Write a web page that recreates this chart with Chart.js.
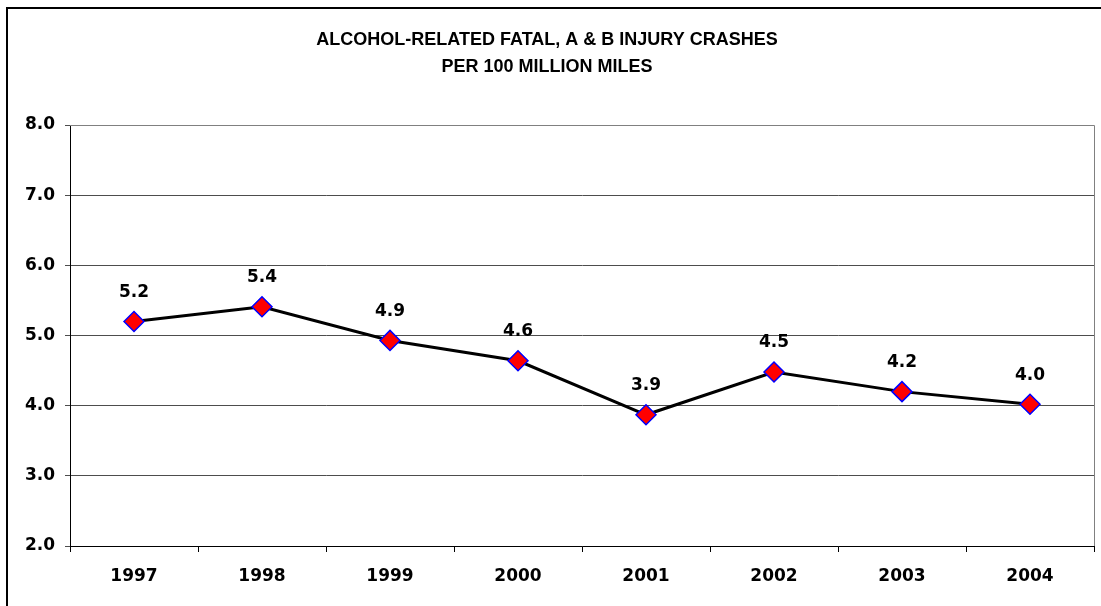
<!DOCTYPE html>
<html>
<head>
<meta charset="utf-8">
<script src="https://cdn.jsdelivr.net/npm/chart.js@4/dist/chart.umd.min.js"></script>
<style>
  body { margin: 0; background: #fff; }
  #wrap { width: 1101px; height: 606px; position: relative; }
</style>
</head>
<body>
<div id="wrap"><canvas id="myChart" width="1101" height="606"></canvas></div>
<script>
const years = ['1997', '1998', '1999', '2000', '2001', '2002', '2003', '2004'];
const crashRates = [5.2, 5.41, 4.93, 4.64, 3.87, 4.48, 4.2, 4.02];
const titleLines = ['ALCOHOL-RELATED FATAL, A & B INJURY CRASHES', 'PER 100 MILLION MILES'];
const yMin = 2;
const yMax = 8;

// frame around the picture + grey plot border on top/right
const framePlugin = {
    id: 'frame',
    beforeDraw(chart) {
        const ctx = chart.ctx;
        ctx.save();
        ctx.fillStyle = '#fff';
        ctx.fillRect(0, 0, chart.width, chart.height);
        ctx.fillStyle = '#000';
        ctx.fillRect(6, 7, 2, chart.height);
        ctx.fillRect(6, 7, chart.width, 2);
        ctx.restore();
    },
    afterDraw(chart) {
        const a = chart.chartArea;
        const ctx = chart.ctx;
        ctx.save();
        ctx.strokeStyle = '#808080';
        ctx.lineWidth = 1;
        ctx.beginPath();
        ctx.moveTo(Math.round(a.right) + 0.5, Math.round(a.bottom));
        ctx.lineTo(Math.round(a.right) + 0.5, Math.round(a.top) + 0.5);
        ctx.lineTo(Math.round(a.left), Math.round(a.top) + 0.5);
        ctx.stroke();
        ctx.restore();
    }
};

// value labels above each point
const valueLabels = {
    id: 'valueLabels',
    afterDatasetsDraw(chart) {
        const ctx = chart.ctx;
        const meta = chart.getDatasetMeta(0);
        ctx.save();
        ctx.font = 'bold 17px "DejaVu Sans", Verdana, sans-serif';
        ctx.fillStyle = '#000';
        ctx.textAlign = 'center';
        ctx.textBaseline = 'middle';
        meta.data.forEach((pt, i) => {
            ctx.fillText(crashRates[i].toFixed(1), pt.x, pt.y - 29);
        });
        ctx.restore();
    }
};

const ctx = document.getElementById('myChart').getContext('2d');
const myChart = new Chart(ctx, {
    type: 'line',
    data: {
        labels: years,
        datasets: [{
            data: crashRates,
            borderColor: '#000',
            borderWidth: 3,
            tension: 0,
            fill: false,
            pointStyle: 'rectRot',
            pointRadius: 10,
            pointHoverRadius: 10,
            pointBackgroundColor: '#ff0000',
            pointBorderColor: '#0000ff',
            pointBorderWidth: 1.5
        }]
    },
    options: {
        responsive: false,
        animation: false,
        layout: { autoPadding: false, padding: { left: 0, right: 7, top: 0, bottom: 0 } },
        plugins: {
            legend: { display: false },
            tooltip: { enabled: false },
            title: {
                display: true,
                text: titleLines,
                color: '#000',
                font: { family: '"Liberation Sans", Arial, sans-serif', size: 18, weight: 'bold', lineHeight: 27 / 18 },
                padding: { top: 27, bottom: 44 }
            }
        },
        scales: {
            x: {
                offset: true,
                grid: {
                    offset: true,
                    drawOnChartArea: false,
                    drawTicks: true,
                    tickLength: 6,
                    color: '#000'
                },
                border: { color: '#000', width: 1 },
                ticks: {
                    color: '#000',
                    padding: 14,
                    font: { family: '"DejaVu Sans", Verdana, sans-serif', size: 17, weight: 'bold' }
                },
                afterFit(scale) {
                    scale.height = 60;
                    scale.paddingLeft = 0;
                    scale.paddingRight = 0;
                }
            },
            y: {
                min: yMin,
                max: yMax,
                grid: {
                    color: '#4d4d4d',
                    lineWidth: 1,
                    tickLength: 5
                },
                border: { color: '#000', width: 1 },
                ticks: {
                    stepSize: 1,
                    color: '#000',
                    padding: 10,
                    font: { family: '"DejaVu Sans", Verdana, sans-serif', size: 17, weight: 'bold' },
                    callback: v => v.toFixed(1)
                },
                afterFit(scale) { scale.width = 70; }
            }
        }
    },
    plugins: [framePlugin, valueLabels]
});
</script>
</body>
</html>
